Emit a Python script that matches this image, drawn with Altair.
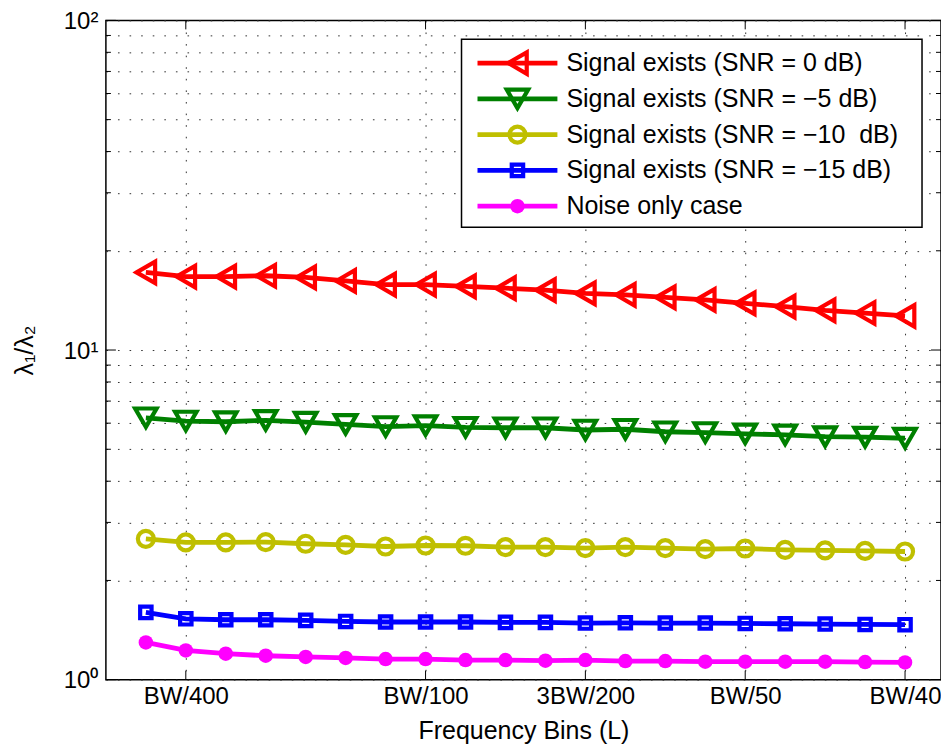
import altair as alt
import pandas as pd

# ---------------- data ----------------
L_values = list(range(1, 21))  # frequency bins in units of BW/800

series_names = [
    "Signal exists (SNR = 0 dB)",
    "Signal exists (SNR = −5 dB)",
    "Signal exists (SNR = −10\u00a0 dB)",
    "Signal exists (SNR = −15 dB)",
    "Noise only case",
]
snr_0 = [17.2, 16.7, 16.7, 16.8, 16.6, 16.2, 15.8, 15.8, 15.6, 15.4,
         15.2, 14.85, 14.7, 14.45, 14.2, 13.85, 13.55, 13.2, 12.95, 12.7]
snr_m5 = [6.23, 6.09, 6.06, 6.12, 6.04, 5.95, 5.86, 5.90, 5.83, 5.81,
          5.81, 5.72, 5.75, 5.65, 5.62, 5.57, 5.53, 5.46, 5.44, 5.40]
snr_m10 = [2.675, 2.61, 2.61, 2.615, 2.584, 2.565, 2.535, 2.553, 2.548, 2.525,
           2.525, 2.507, 2.525, 2.507, 2.489, 2.50, 2.477, 2.466, 2.46, 2.448]
snr_m15 = [1.60, 1.53, 1.52, 1.52, 1.513, 1.502, 1.496, 1.496, 1.496, 1.492,
           1.492, 1.485, 1.488, 1.485, 1.485, 1.481, 1.478, 1.475, 1.471, 1.468]
noise = [1.297, 1.227, 1.199, 1.182, 1.172, 1.164, 1.155, 1.155, 1.147, 1.147,
         1.142, 1.147, 1.139, 1.139, 1.134, 1.134, 1.134, 1.134, 1.131, 1.128]
all_series = [snr_0, snr_m5, snr_m10, snr_m15, noise]

series_colors = ["#FF0000", "#008000", "#BFBF00", "#0000FF", "#FF00FF"]
series_shapes = ["triangle-left", "triangle-down", "circle", "square", "circle"]
series_sizes = [460, 460, 256, 130, 210]
series_filled = [False, False, False, False, True]

x_tick_values = [2, 8, 12, 16, 20]
x_tick_labels = ["BW/400", "BW/100", "3BW/200", "BW/50", "BW/40"]
y_major = [1, 10, 100]
y_major_labels = ["10⁰", "10¹", "10²"]
y_minor = [2, 3, 4, 5, 6, 7, 8, 9, 20, 30, 40, 50, 60, 70, 80, 90]

# ---------------- layout ----------------
W, H = 836, 660
FONT = "Liberation Sans"
FS = 25
MSW = 4.2  # marker edge width

rows = []
for name, vals in zip(series_names, all_series):
    for l, v in zip(L_values, vals):
        rows.append({"series": name, "L": l, "ratio": v})
df = pd.DataFrame(rows)

x_label_expr = " : ".join(
    f"datum.value == {v} ? '{t}'" for v, t in zip(x_tick_values, x_tick_labels)
) + " : ''"
y_label_expr = " : ".join(
    f"datum.value == {v} ? '{t}'" for v, t in zip(y_major, y_major_labels)
) + " : ''"

x_scale = alt.Scale(domain=[0, 20.9], nice=False, zero=False)
y_scale = alt.Scale(type="log", domain=[1, 100], nice=False)
color_scale = alt.Scale(domain=series_names, range=series_colors)

grid_style = dict(grid=True, gridColor="#333333", gridDash=[1.6, 10], gridWidth=1, gridOpacity=1)

x_axis = alt.Axis(
    values=x_tick_values, labelExpr=x_label_expr, ticks=False, tickSize=0, domain=False,
    labelFont=FONT, labelFontSize=24, labelColor="black", labelPadding=5,
    labelFlush=False, labelOverlap=False,
    title="Frequency Bins (L)", titleFont=FONT, titleFontSize=FS,
    titleFontWeight="normal", titleColor="black", titlePadding=10,
    **grid_style,
)
y_axis = alt.Axis(
    values=sorted(y_major + y_minor), labelExpr=y_label_expr, ticks=False, tickSize=0,
    domain=False, labelFont=FONT, labelFontSize=24, labelColor="black", labelPadding=8,
    labelOverlap=False, labelFlush=False, labelOffset=1,
    title="λ₁/λ₂", titleFont=FONT, titleFontSize=FS, titleFontWeight="normal",
    titleColor="black", titlePadding=26,
    **grid_style,
)

X = alt.X("L:Q", scale=x_scale, axis=x_axis)
Y = alt.Y("ratio:Q", scale=y_scale, axis=y_axis)
C = alt.Color("series:N", scale=color_scale, legend=None)

layers = []
for name, shape, size, filled in zip(series_names, series_shapes, series_sizes, series_filled):
    sub = alt.Chart(df).transform_filter(alt.datum.series == name)
    layers.append(sub.mark_line(strokeWidth=4.8).encode(x=X, y=Y, color=C))
    if filled:
        layers.append(sub.mark_point(shape=shape, size=size, filled=True, opacity=1)
                      .encode(x=X, y=Y, color=C))
    else:
        layers.append(sub.mark_point(shape=shape, size=size, filled=False, strokeWidth=MSW,
                                     opacity=1).encode(x=X, y=Y, color=C))

# inward tick marks (box on all four sides)
ymin_df = pd.DataFrame({"ratio": y_minor})
ymaj_df = pd.DataFrame({"ratio": y_major})
xmaj_df = pd.DataFrame({"L": x_tick_values})
tick = dict(color="black", strokeWidth=1)
layers += [
    alt.Chart(ymin_df).mark_rule(**tick).encode(y=Y, x=alt.value(0), x2=alt.value(5)),
    alt.Chart(ymin_df).mark_rule(**tick).encode(y=Y, x=alt.value(W), x2=alt.value(W - 5)),
    alt.Chart(ymaj_df).mark_rule(**tick).encode(y=Y, x=alt.value(0), x2=alt.value(10)),
    alt.Chart(ymaj_df).mark_rule(**tick).encode(y=Y, x=alt.value(W), x2=alt.value(W - 10)),
    alt.Chart(xmaj_df).mark_rule(**tick).encode(x=X, y=alt.value(H), y2=alt.value(H - 9)),
    alt.Chart(xmaj_df).mark_rule(**tick).encode(x=X, y=alt.value(0), y2=alt.value(9)),
]
main = alt.layer(*layers)

# ---------------- legend (own ordinal y scale) ----------------
leg_df = pd.DataFrame({"series": series_names})
LY = alt.Y("series:N", scale=alt.Scale(type="point", domain=series_names,
                                        range=[42.7, 186], padding=0), axis=None)
leg_layers = [
    alt.Chart(pd.DataFrame({"series": [series_names[0]]})).mark_rect(
        fill="white", stroke="black", strokeWidth=1.5
    ).encode(x=alt.value(356), x2=alt.value(817), y=alt.value(19), y2=alt.value(207)),
    alt.Chart(leg_df).mark_rule(strokeWidth=4.8).encode(
        y=LY, x=alt.value(372), x2=alt.value(452), color=C),
]
for name, shape, size, filled in zip(series_names, series_shapes, series_sizes, series_filled):
    sub = alt.Chart(leg_df).transform_filter(alt.datum.series == name)
    if filled:
        leg_layers.append(sub.mark_point(shape=shape, size=size, filled=True, opacity=1)
                          .encode(y=LY, x=alt.value(412), color=C))
    else:
        leg_layers.append(sub.mark_point(shape=shape, size=size, filled=False, strokeWidth=MSW,
                                         opacity=1).encode(y=LY, x=alt.value(412), color=C))
leg_layers.append(
    alt.Chart(leg_df).mark_text(align="left", baseline="middle", font=FONT, fontSize=FS,
                                color="black").encode(y=LY, x=alt.value(461), text="series:N")
)
legend = alt.layer(*leg_layers)

chart = (
    alt.layer(main, legend)
    .resolve_scale(y="independent")
    .properties(width=W, height=H, autosize=alt.AutoSizeParams(type="none"),
                padding={"left": 98, "top": 12, "right": 0, "bottom": 64},
                background="white")
    .configure_view(stroke="black", strokeWidth=1.5)
)

chart.save("out.html", embed_options={"renderer": "svg", "actions": False})
